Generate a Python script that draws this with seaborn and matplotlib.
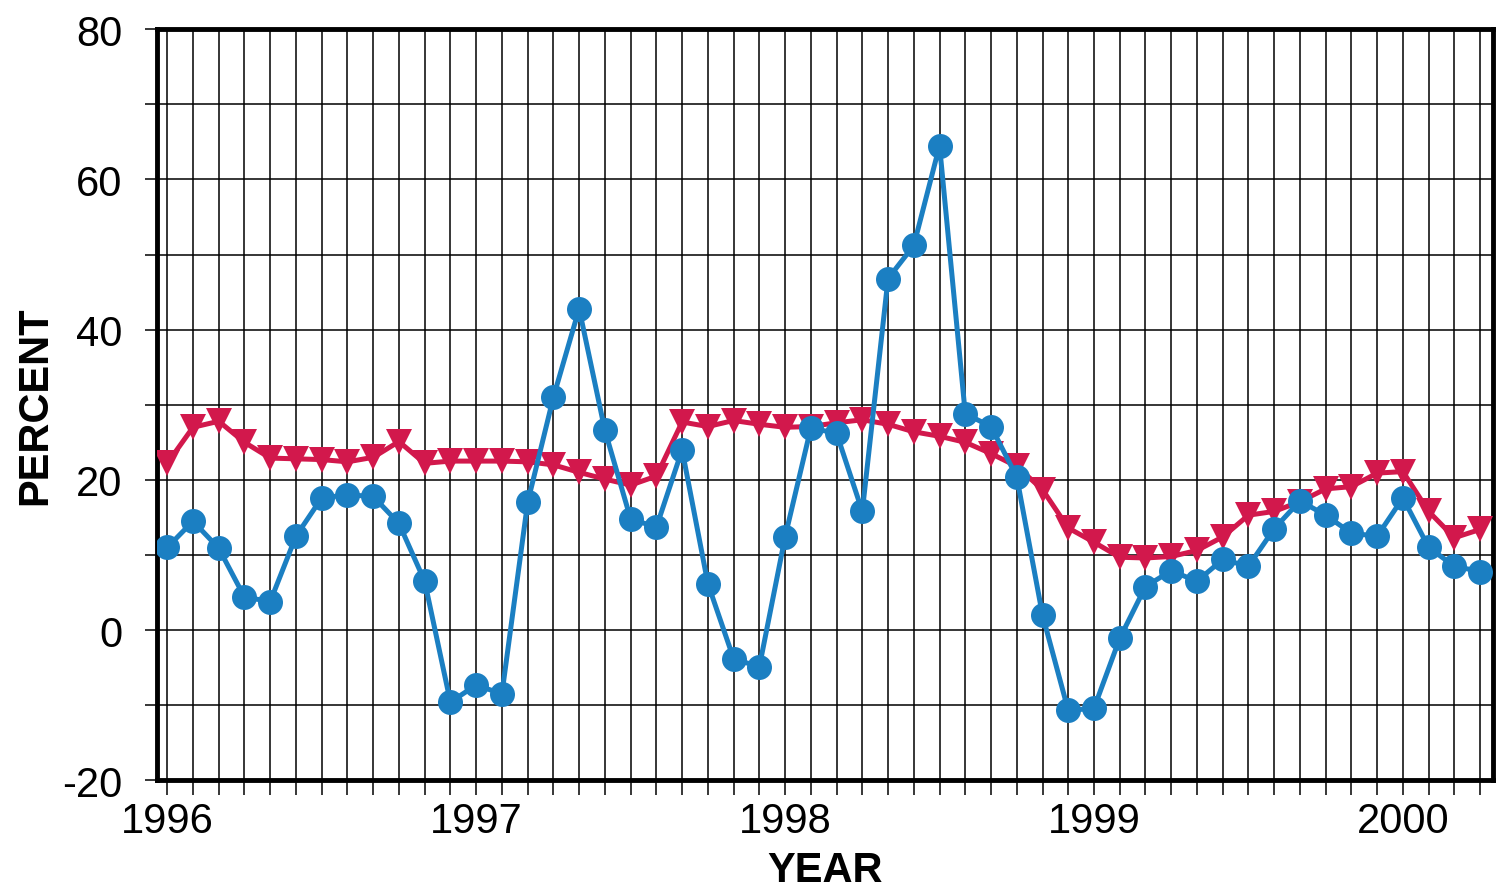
import numpy as np
import pandas as pd
import matplotlib
matplotlib.use("Agg")
import matplotlib.pyplot as plt
import seaborn as sns

# ---- data (monthly, Jan 1996 .. Apr 2000) ----
start_year = 1996
n_months = 52
blue_values = [11.0, 14.5, 10.9, 4.4, 3.8, 12.5, 17.6, 18.0, 17.8, 14.2, 6.5, -9.6,
               -7.3, -8.5, 17.0, 31.0, 42.8, 26.6, 14.8, 13.7, 24.0, 6.2, -3.8, -4.9,
               12.4, 26.9, 26.2, 15.8, 46.8, 51.2, 64.5, 28.8, 27.1, 20.4, 2.0, -10.7,
               -10.4, -1.1, 5.8, 7.9, 6.5, 9.4, 8.5, 13.5, 17.2, 15.3, 12.9, 12.5,
               17.6, 11.0, 8.5, 7.8]
red_values = [22.2, 27.0, 27.8, 25.0, 22.9, 22.8, 22.7, 22.4, 23.0, 25.1, 22.2, 22.5,
              22.5, 22.5, 22.4, 22.0, 21.0, 20.1, 19.3, 20.5, 27.7, 27.1, 27.9, 27.4,
              27.0, 27.1, 27.6, 28.0, 27.4, 26.4, 25.8, 25.0, 23.5, 21.8, 18.7, 13.6,
              11.7, 9.7, 9.6, 9.8, 10.6, 12.4, 15.3, 15.8, 17.1, 18.8, 19.1, 20.9,
              21.1, 15.8, 12.3, 13.4]
year_ticks = [1996, 1997, 1998, 1999, 2000]
y_ticks = [-20, 0, 20, 40, 60, 80]
x_label = "YEAR"
y_label = "PERCENT"

months = [start_year + i / 12 for i in range(n_months)]
df = pd.DataFrame({"year": months, "blue": blue_values, "red": red_values})

BLUE = "#1b7fc2"
RED = "#d2184c"

sns.set_style("ticks")
plt.rcParams["font.family"] = ["Liberation Sans", "DejaVu Sans"]
plt.rcParams["text.color"] = "black"
plt.rcParams["axes.labelcolor"] = "black"
plt.rcParams["xtick.color"] = "black"
plt.rcParams["ytick.color"] = "black"

fig = plt.figure(figsize=(14.99, 8.95), dpi=100)
ax = fig.add_axes([0.1047, 0.127, 0.8913, 0.8393])

sns.lineplot(data=df, x="year", y="red", ax=ax, color=RED, linewidth=3.6,
             marker="v", markersize=19, markeredgecolor=RED, markeredgewidth=0,
             zorder=3)
sns.lineplot(data=df, x="year", y="blue", ax=ax, color=BLUE, linewidth=3.6,
             marker="o", markersize=18, markeredgecolor=BLUE, markeredgewidth=0,
             zorder=4)

ax.set_xlim(start_year - 0.4 / 12, months[-1] + 0.5 / 12)
ax.set_ylim(-20, 80)

ax.set_xticks(year_ticks)
ax.set_xticks(months, minor=True)
ax.set_yticks(y_ticks)
ax.set_yticks(list(range(-20, 81, 10)), minor=True)
ax.set_xticklabels([str(y) for y in year_ticks])
ax.set_yticklabels([str(v) for v in y_ticks])

ax.grid(which="both", axis="both", color="black", linewidth=1.1, zorder=1)
ax.set_axisbelow(True)

ax.tick_params(axis="x", which="both", direction="out", length=11, width=1.1,
               color="black", labelcolor="black", pad=4, labelsize=30)
ax.tick_params(axis="y", which="both", direction="out", length=9, width=1.1,
               color="black", labelcolor="black", pad=16, labelsize=30)

for s in ax.spines.values():
    s.set_visible(True)
    s.set_linewidth(3.5)
    s.set_color("black")

ax.set_xlabel(x_label, fontsize=30, fontweight="bold", labelpad=6, color="black")
ax.set_ylabel(y_label, fontsize=30, fontweight="bold", labelpad=5, color="black")

fig.savefig("out.png", dpi=100, facecolor="white")
